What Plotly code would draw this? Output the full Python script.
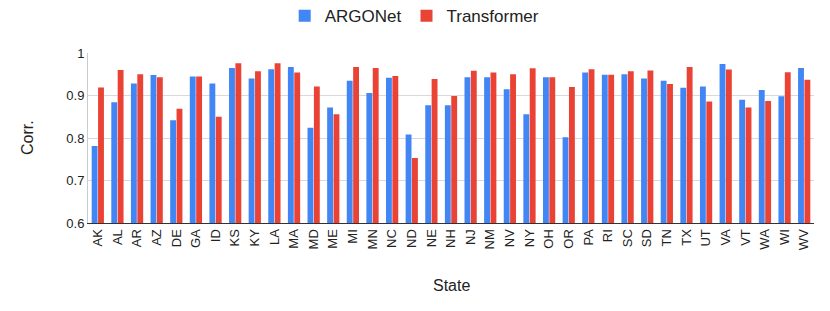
import plotly.graph_objects as go

states = ["AK","AL","AR","AZ","DE","GA","ID","KS","KY","LA","MA","MD","ME","MI","MN","NC","ND","NE","NH","NJ","NM","NV","NY","OH","OR","PA","RI","SC","SD","TN","TX","UT","VA","VT","WA","WI","WV"]
argonet = [0.781,0.884,0.928,0.948,0.842,0.945,0.928,0.965,0.940,0.962,0.967,0.824,0.872,0.935,0.906,0.942,0.808,0.877,0.877,0.943,0.943,0.915,0.856,0.943,0.802,0.954,0.949,0.950,0.940,0.935,0.918,0.921,0.974,0.890,0.913,0.898,0.965]
transformer = [0.919,0.960,0.950,0.943,0.869,0.945,0.850,0.976,0.957,0.976,0.954,0.921,0.856,0.967,0.965,0.946,0.753,0.939,0.899,0.958,0.954,0.950,0.964,0.943,0.920,0.962,0.949,0.957,0.959,0.927,0.967,0.886,0.961,0.872,0.887,0.955,0.937]
y_ticks = [0.6, 0.7, 0.8, 0.9, 1.0]
y_ticktext = ["0.6", "0.7", "0.8", "0.9", "1"]

font = "Liberation Sans, Arial, sans-serif"

fig = go.Figure()
fig.add_trace(go.Bar(x=states, y=argonet, name="ARGONet", marker_color="#4285F4", marker_line_width=0))
fig.add_trace(go.Bar(x=states, y=transformer, name="Transformer", marker_color="#EA4335", marker_line_width=0))

# page body has an 8px default margin; size the figure so the plot lands where the reference's does
fig.update_layout(
    width=822, height=303,
    margin=dict(l=80, r=16, t=45, b=88, autoexpand=False),
    paper_bgcolor="white", plot_bgcolor="white",
    font=dict(family=font, color="#222222", size=13),
    barmode="group", bargap=0.35, bargroupgap=0.08,
    showlegend=True,
    legend=dict(orientation="h", x=0.45, xanchor="center", xref="paper",
                y=1.323, yanchor="top", yref="paper",
                font=dict(size=17, color="#222222"),
                traceorder="normal"),
    xaxis=dict(tickangle=-90, tickfont=dict(size=13), showgrid=False,
               showline=True, linecolor="#333333", linewidth=1, ticks="",
               automargin=False),
    yaxis=dict(range=[0.6, 1.0], tickvals=y_ticks, ticktext=y_ticktext,
               tickfont=dict(size=13), showgrid=True, gridcolor="#d9d9d9",
               showline=True, linecolor="#cccccc", zeroline=False, ticks="",
               automargin=False),
    annotations=[
        dict(text="Corr.", xref="paper", yref="paper", x=-0.084, y=0.5,
             xanchor="center", yanchor="middle", textangle=-90, showarrow=False,
             font=dict(size=16, family=font, color="#222222")),
        dict(text="State", xref="paper", yref="paper", x=0.5, y=-0.367,
             xanchor="center", yanchor="middle", showarrow=False,
             font=dict(size=16, family=font, color="#222222")),
    ],
)

fig.write_html("out.html")
